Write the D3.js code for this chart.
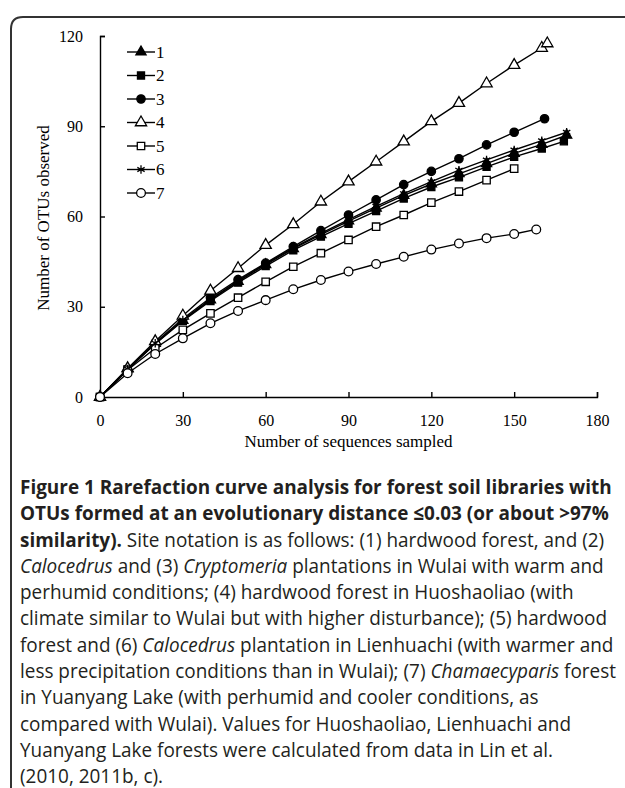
<!DOCTYPE html>
<html>
<head>
<meta charset="utf-8">
<script src="https://cdn.jsdelivr.net/npm/d3@7"></script>
<style>
  body { margin: 0; background: #fff; }
  svg { display: block; }
</style>
</head>
<body>
<div id="graph-container"></div>
<script>
// rarefaction curves, [sequences sampled, OTUs observed]
const site1 = [[0,0],[10,9.3],[20,17.8],[30,25.5],[40,32.3],[50,38.4],[60,44],[70,49.3],[80,54],[90,58.5],[100,62.8],[110,67],[120,70.8],[130,74.2],[140,77.6],[150,81],[160,84],[169,87]];
const site2 = [[0,0],[10,9.2],[20,17.6],[30,25.3],[40,31.9],[50,38],[60,43.5],[70,48.8],[80,53.3],[90,57.6],[100,61.8],[110,66],[120,69.8],[130,73],[140,76.5],[150,79.8],[160,82.6],[168,85]];
const site3 = [[0,0],[10,9],[20,18],[30,26],[40,33],[50,39],[60,44.5],[70,50],[80,55.3],[90,60.5],[100,65.5],[110,70.6],[120,75],[130,79.2],[140,83.8],[150,88],[161,92.5]];
const site4 = [[0,0],[10,9.5],[20,18.5],[30,27],[40,35.3],[50,42.8],[60,50.5],[70,57.4],[80,64.9],[90,71.6],[100,78.2],[110,84.9],[120,91.6],[130,97.7],[140,104.2],[150,110.3],[160,116],[162,117.5]];
const site5 = [[0,0],[10,9],[20,16.2],[30,22.3],[40,27.8],[50,33],[60,38.3],[70,43.3],[80,47.8],[90,52.2],[100,56.6],[110,60.5],[120,64.6],[130,68.3],[140,72.1],[150,75.9]];
const site6 = [[0,0],[10,9.3],[20,17.9],[30,25.6],[40,32.5],[50,38.6],[60,44.3],[70,49.6],[80,54.4],[90,59],[100,63.4],[110,67.6],[120,71.6],[130,75.4],[140,78.8],[150,82.1],[160,85.2],[169,88]];
const site7 = [[0,0],[10,7.9],[20,14.3],[30,19.5],[40,24.5],[50,28.6],[60,32.2],[70,35.8],[80,38.9],[90,41.7],[100,44.2],[110,46.6],[120,49],[130,51],[140,52.8],[150,54.2],[158,55.7]];

const siteNames = ['1', '2', '3', '4', '5', '6', '7'];
const xTicks = [0, 30, 60, 90, 120, 150, 180];
const yTicks = [0, 30, 60, 90, 120];
const xTitle = 'Number of sequences sampled';
const yTitle = 'Number of OTUs observed';

const WIDTH = 625;
const HEIGHT = 788;
const LEFT = 100;
const RIGHT = 597;
const TOP = 36;
const BOTTOM = 397;

// marker style per site: symbol, filled or not
const markers = [
  {shape: d3.symbolTriangle, fill: '#000', size: 45},
  {shape: d3.symbolSquare, fill: '#000', size: 50},
  {shape: d3.symbolCircle, fill: '#000', size: 55},
  {shape: d3.symbolTriangle, fill: '#fff', size: 55},
  {shape: d3.symbolSquare, fill: '#fff', size: 55},
  {shape: d3.symbolAsterisk, fill: 'none', size: 50},
  {shape: d3.symbolCircle, fill: '#fff', size: 60},
];

const sites = [site1, site2, site3, site4, site5, site6, site7];

const svg = d3.select('#graph-container')
              .append('svg')
              .attr('width', WIDTH)
              .attr('height', HEIGHT)
              .attr('xmlns', 'http://www.w3.org/2000/svg');

// rounded frame round the figure (open on the right and bottom)
svg.append('path')
   .attr('d', 'M11,800 V29 Q11,17 23,17 H640')
   .attr('fill', 'none')
   .attr('stroke', '#333')
   .attr('stroke-width', 2);

const xScale = d3.scaleLinear()
                 .domain([0, 180])
                 .range([LEFT, RIGHT]);

const yScale = d3.scaleLinear()
                 .domain([0, 120])
                 .range([BOTTOM, TOP]);

const xAxis = d3.axisBottom(xScale)
                .tickValues(xTicks)
                .tickSizeInner(-5)
                .tickSizeOuter(-5)
                .tickPadding(18);

const yAxis = d3.axisLeft(yScale)
                .tickValues(yTicks)
                .tickSizeInner(-5)
                .tickSizeOuter(-5)
                .tickPadding(17);

const styleAxis = g => {
  g.selectAll('path').attr('stroke', '#000').attr('stroke-width', 1.4);
  g.selectAll('line').attr('stroke', '#000').attr('stroke-width', 1.4);
  g.selectAll('text')
   .attr('fill', '#000')
   .style('font-family', '"Liberation Serif", "Times New Roman", serif')
   .style('font-size', '16px');
};

svg.append('g')
   .attr('id', 'x-axis')
   .attr('transform', `translate(0, ${BOTTOM})`)
   .call(xAxis)
   .call(styleAxis);

svg.append('g')
   .attr('id', 'y-axis')
   .attr('transform', `translate(${LEFT}, 0)`)
   .call(yAxis)
   .call(styleAxis);

svg.append('text')
   .attr('x', (LEFT + RIGHT) / 2)
   .attr('y', 447)
   .attr('text-anchor', 'middle')
   .style('font-family', '"Liberation Serif", "Times New Roman", serif')
   .style('font-size', '17px')
   .text(xTitle);

svg.append('text')
   .attr('transform', 'translate(49, 218) rotate(-90)')
   .attr('text-anchor', 'middle')
   .style('font-family', '"Liberation Serif", "Times New Roman", serif')
   .style('font-size', '17px')
   .text(yTitle);

const line = d3.line()
               .x(d => xScale(d[0]))
               .y(d => yScale(d[1]));

const drawMarker = (sel, m) => {
  sel.attr('d', d3.symbol().type(m.shape).size(m.size))
     .attr('fill', m.fill)
     .attr('stroke', '#000')
     .attr('stroke-width', 1.3);
};

sites.forEach((data, i) => {
  const g = svg.append('g').attr('class', `site site-${i + 1}`);

  g.append('path')
   .datum(data)
   .attr('d', line)
   .attr('fill', 'none')
   .attr('stroke', '#000')
   .attr('stroke-width', 1.4);

  g.selectAll('path.marker')
   .data(data)
   .enter()
   .append('path')
   .attr('class', 'marker')
   .attr('transform', d => `translate(${xScale(d[0])}, ${yScale(d[1])})`)
   .call(drawMarker, markers[i]);
});

// legend inside the plot, top left
const legend = svg.append('g')
                  .attr('id', 'legend')
                  .attr('transform', 'translate(127, 52)');

siteNames.forEach((name, i) => {
  const row = legend.append('g')
                    .attr('transform', `translate(0, ${i * 23.5})`);
  row.append('line')
     .attr('x1', 0)
     .attr('x2', 28)
     .attr('stroke', '#000')
     .attr('stroke-width', 1.4);
  row.append('path')
     .attr('transform', 'translate(14, 0)')
     .call(drawMarker, markers[i]);
  row.append('text')
     .attr('x', 29)
     .attr('dy', '0.35em')
     .style('font-family', '"Liberation Serif", "Times New Roman", serif')
     .style('font-size', '17px')
     .text(name);
});

// figure caption, one entry per printed line; each part is [text, style]
const captionLines = [
  [['Figure 1 Rarefaction curve analysis for forest soil libraries with', 'b']],
  [['OTUs formed at an evolutionary distance \u22640.03 (or about >97%', 'b']],
  [['similarity).', 'b'], [' Site notation is as follows: (1) hardwood forest, and (2)', 'n']],
  [['Calocedrus', 'i'], [' and (3) ', 'n'], ['Cryptomeria', 'i'], [' plantations in Wulai with warm and', 'n']],
  [['perhumid conditions; (4) hardwood forest in Huoshaoliao (with', 'n']],
  [['climate similar to Wulai but with higher disturbance); (5) hardwood', 'n']],
  [['forest and (6) ', 'n'], ['Calocedrus', 'i'], [' plantation in Lienhuachi (with warmer and', 'n']],
  [['less precipitation conditions than in Wulai); (7) ', 'n'], ['Chamaecyparis', 'i'], [' forest', 'n']],
  [['in Yuanyang Lake (with perhumid and cooler conditions, as', 'n']],
  [['compared with Wulai). Values for Huoshaoliao, Lienhuachi and', 'n']],
  [['Yuanyang Lake forests were calculated from data in Lin et al.', 'n']],
  [['(2010, 2011b, c).', 'n']],
];

const caption = svg.append('g')
                   .attr('id', 'caption');

captionLines.forEach((parts, i) => {
  const t = caption.append('text')
                   .attr('x', 0)
                   .attr('y', 494 + i * 26.3)
                   .attr('fill', '#231f20')
                   .style('font-family', '"Open Sans", "Noto Sans", sans-serif')
                   .style('font-size', '20px');
  parts.forEach(p => {
    t.append('tspan')
     .style('font-weight', p[1] === 'b' ? 'bold' : 'normal')
     .style('font-style', p[1] === 'i' ? 'italic' : 'normal')
     .text(p[0]);
  });
});

// squeeze caption so the first line spans the width it has in the print
const firstWidth = caption.select('text').node().getComputedTextLength();
caption.attr('transform', `translate(20, 0) scale(${592 / firstWidth}, 1)`);
</script>
</body>
</html>
